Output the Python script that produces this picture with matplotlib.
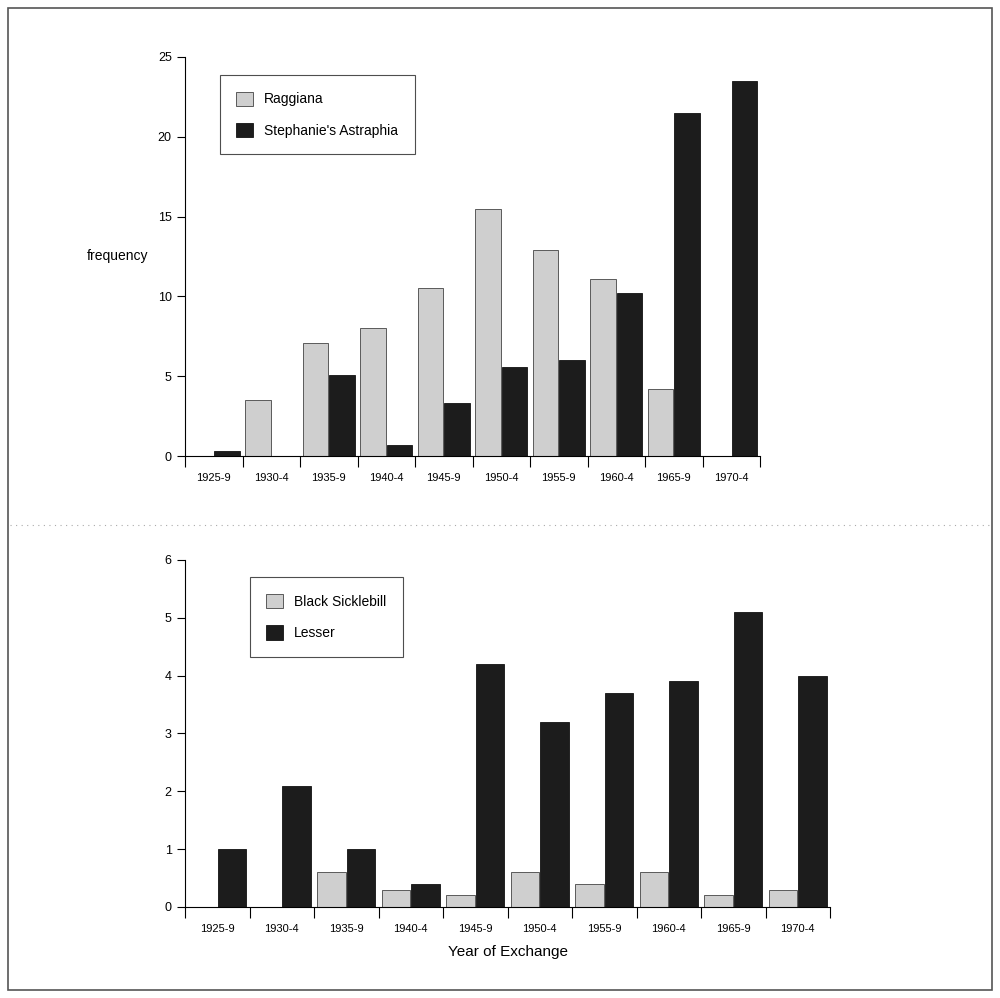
import matplotlib
matplotlib.use("Agg")
import matplotlib.pyplot as plt
import numpy as np
from matplotlib.lines import Line2D
from matplotlib.patches import Rectangle

periods = ["1925-9","1930-4","1935-9","1940-4","1945-9","1950-4","1955-9","1960-4","1965-9","1970-4"]
raggiana = [0, 3.5, 7.1, 8.0, 10.5, 15.5, 12.9, 11.1, 4.2, 0]
stephanie = [0.3, 0, 5.1, 0.7, 3.3, 5.6, 6.0, 10.2, 21.5, 23.5]
sicklebill = [0, 0, 0.6, 0.3, 0.2, 0.6, 0.4, 0.6, 0.2, 0.3]
lesser = [1.0, 2.1, 1.0, 0.4, 4.2, 3.2, 3.7, 3.9, 5.1, 4.0]

LIGHT = "#cfcfcf"; DARK = "#1c1c1c"
plt.rcParams["font.family"] = "Liberation Sans"
fig = plt.figure(figsize=(10, 9.98), dpi=100)
fig.patch.set_facecolor("white")
fig.add_artist(Rectangle((0.008, 0.008), 0.984, 0.984, transform=fig.transFigure, fill=False, ec="#555555", lw=1.2))
fig.add_artist(Line2D([0.01, 0.99], [0.474, 0.474], transform=fig.transFigure, color="#aaaaaa", lw=0.8, ls=(0, (1, 4))))

def panel(rect, a, b, la, lb, ymax, ystep, legrect):
    ax = fig.add_axes(rect)
    x = np.arange(len(periods))
    w = 0.44
    ax.bar(x - w/2 - 0.01, a, w, color=LIGHT, edgecolor="#444444", lw=0.6, label=la)
    ax.bar(x + w/2 + 0.01, b, w, color=DARK, edgecolor="#111111", lw=0.6, label=lb)
    ax.set_xlim(-0.5, len(periods) - 0.5)
    ax.set_ylim(0, ymax)
    ax.set_yticks(np.arange(0, ymax + 0.01, ystep))
    ax.set_xticks(np.arange(-0.5, len(periods) + 0.5, 1))
    ax.set_xticklabels([])
    ax.set_xticks(x, minor=True)
    ax.set_xticklabels(periods, minor=True, fontsize=8)
    ax.tick_params(axis="x", which="minor", length=0, pad=12)
    ax.tick_params(axis="x", which="major", length=8, direction="out")
    ax.tick_params(axis="y", length=6, direction="out", labelsize=9)
    for s in ["top", "right"]:
        ax.spines[s].set_visible(False)
    leg = ax.legend(loc="upper left", bbox_to_anchor=legrect, frameon=True, fancybox=False,
                    edgecolor="#222222", fontsize=10, handlelength=1.2, handleheight=1.2,
                    labelspacing=1.2, borderpad=1.2, borderaxespad=0)
    leg.get_frame().set_linewidth(0.8)
    return ax

ax1 = panel([0.185, 0.543, 0.575, 0.4], raggiana, stephanie, "Raggiana", "Stephanie's Astraphia", 25, 5, (0.06, 0.955))
ax1.text(-0.17, 0.5, "frequency", transform=ax1.transAxes, fontsize=10, va="center", ha="left")
ax2 = panel([0.185, 0.0912, 0.645, 0.3477], sicklebill, lesser, "Black Sicklebill", "Lesser", 6, 1, (0.1, 0.95))
ax2.set_xlabel("Year of Exchange", fontsize=11, labelpad=8)
fig.savefig("out.png", dpi=100)
